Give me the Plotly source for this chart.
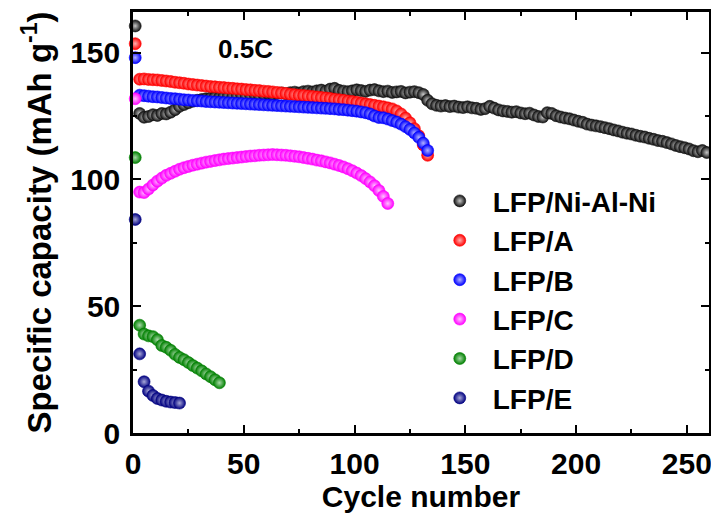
import plotly.graph_objects as go

# ---------------- data ----------------
x_ni = list(range(1, 260, 2))
y_ni = [160.5, 126.0, 124.5, 124.8, 125.5, 125.2, 126.0, 125.8, 126.5, 127.5,
        128.8, 129.5, 130.2, 130.8, 131.2, 131.5, 131.8, 132.0, 132.3, 132.2,
        132.6, 132.8, 132.7, 133.0, 133.2, 133.0, 133.3, 133.5, 133.2, 133.6,
        133.8, 133.5, 133.9, 134.1, 133.8, 134.2, 134.4, 134.1, 134.6, 134.8,
        134.5, 134.9, 135.2, 134.8, 135.6, 135.9, 135.1, 134.8, 134.6, 134.9,
        135.3, 135.0, 134.7, 135.2, 135.4, 134.9, 134.6, 134.8, 134.3, 134.5,
        134.7, 134.1, 134.4, 134.6, 134.2, 133.5, 131.2, 129.8, 129.2, 128.9,
        129.1, 128.7, 128.9, 128.5, 128.3, 128.6, 128.2, 128.0, 127.6, 127.9,
        128.8, 128.1, 127.4, 127.0, 126.8, 126.5, 126.7, 126.2, 125.9, 126.1,
        125.4, 124.8, 124.6, 126.3, 126.0, 125.1, 124.6, 124.2, 123.9, 123.4,
        122.9, 122.5, 121.8, 121.4, 121.1, 120.8, 120.4, 120.0, 119.5, 119.1,
        118.6, 118.2, 117.9, 117.4, 117.0, 116.7, 116.2, 115.8, 115.3, 115.0,
        114.5, 114.0, 113.4, 112.9, 112.5, 112.0, 111.3, 110.9, 111.4, 110.6]

x_a = list(range(1, 134, 2))
y_a = [153.5, 139.5, 139.6, 139.4, 139.3, 139.2, 139.0, 138.8, 138.6, 138.3,
       138.1, 137.9, 137.6, 137.4, 137.2, 137.0, 136.8, 136.6, 136.5, 136.3,
       136.2, 136.0, 135.9, 135.7, 135.6, 135.4, 135.3, 135.1, 135.0, 134.8,
       134.7, 134.5, 134.3, 134.1, 133.9, 133.6, 133.4, 133.2, 133.1, 132.9,
       132.7, 132.5, 132.3, 132.1, 131.9, 131.6, 131.4, 131.2, 130.9, 130.7,
       130.4, 130.1, 129.8, 129.5, 129.2, 128.9, 128.6, 128.2, 127.8, 127.0,
       125.8, 124.2, 122.3, 120.0, 117.2, 113.6, 109.5]

x_b = list(range(1, 134, 2))
y_b = [148.0, 133.2, 133.0, 132.8, 132.6, 132.5, 132.3, 132.1, 131.9, 131.8,
       131.6, 131.4, 131.3, 131.1, 131.0, 130.9, 130.7, 130.6, 130.5, 130.4,
       130.3, 130.2, 130.1, 130.0, 129.9, 129.8, 129.7, 129.6, 129.5, 129.4,
       129.3, 129.2, 129.1, 129.0, 128.9, 128.8, 128.7, 128.6, 128.5, 128.4,
       128.3, 128.2, 128.1, 128.0, 127.9, 127.8, 127.6, 127.5, 127.3, 127.1,
       126.9, 126.6, 126.3, 125.8, 125.0, 124.4, 124.3, 123.8, 123.2, 122.6,
       121.8, 120.8, 119.7, 118.3, 116.6, 114.3, 111.4]

x_c = list(range(1, 116, 2))
y_c = [131.8, 95.0, 94.8, 96.2, 97.8, 99.3, 100.5, 101.6, 102.4, 103.2,
       104.0, 104.6, 105.1, 105.6, 106.0, 106.4, 106.8, 107.1, 107.4, 107.7,
       108.0, 108.2, 108.4, 108.6, 108.8, 109.0, 109.2, 109.3, 109.5, 109.6,
       109.7, 109.8, 109.7, 109.6, 109.5, 109.3, 109.1, 108.9, 108.6, 108.3,
       108.0, 107.6, 107.3, 106.9, 106.5, 106.0, 105.5, 104.9, 104.2, 103.4,
       102.5, 101.5, 100.3, 99.0, 97.5, 95.6, 93.3, 90.5]

x_d = list(range(1, 40, 2))
y_d = [108.6, 42.5, 39.0, 38.3, 38.0, 36.8, 34.5, 33.8, 32.6, 31.0,
       29.8, 28.9, 27.8, 26.6, 25.6, 24.5, 23.3, 22.2, 21.0, 19.8]

x_e = list(range(1, 22, 2))
y_e = [84.2, 31.2, 20.2, 16.5, 14.8, 13.6, 13.0, 12.5, 12.2, 12.0, 11.8]

names = ["LFP/Ni-Al-Ni", "LFP/A", "LFP/B", "LFP/C", "LFP/D", "LFP/E"]
colors = ["#111111", "#ff0000", "#0000ff", "#ff00ff", "#008000", "#000080"]
highlights = ["#c8c8c8", "#ffb0b0", "#b0b0ff", "#ffc0ff", "#a8d8a8", "#a8a8d8"]
xs = [x_ni, x_a, x_b, x_c, x_d, x_e]
ys = [y_ni, y_a, y_b, y_c, y_d, y_e]

FONT = "Arial, Liberation Sans, sans-serif"

fig = go.Figure()
for n, c, h, xv, yv in zip(names, colors, highlights, xs, ys):
    fig.add_trace(go.Scatter(
        x=xv, y=yv, name=n, mode="markers",
        marker=dict(size=12, color=c, line=dict(width=0.6, color=c),
                    gradient=dict(type="radial", color=h)),
        cliponaxis=False,
    ))

axis_common = dict(
    showline=True, linewidth=2.5, linecolor="black", mirror="ticks",
    ticks="inside", ticklen=8, tickwidth=2, tickcolor="black",
    showgrid=False, zeroline=False, automargin=False,
    tickfont=dict(family=FONT, size=30, color="black", weight="bold"),
)

# page body has an 8px default margin: figure is sized/margined to compensate
fig.update_layout(
    width=711, height=509,
    paper_bgcolor="white", plot_bgcolor="white",
    margin=dict(l=125, r=10, t=4, b=84),
    font=dict(family=FONT, color="black"),
    xaxis=dict(range=[0, 260], tickvals=[0, 50, 100, 150, 200, 250],
               minor=dict(tickvals=[25, 75, 125, 175, 225], ticks="inside",
                          ticklen=4, tickwidth=2, tickcolor="black"),
               ticklabelstandoff=2,
               title=dict(text="Cycle number", standoff=4,
                          font=dict(family=FONT, size=30, color="black", weight="bold")),
               **axis_common),
    yaxis=dict(range=[0, 166], tickvals=[0, 50, 100, 150],
               minor=dict(tickvals=[25, 75, 125], ticks="inside",
                          ticklen=4, tickwidth=2, tickcolor="black"),
               ticklabelstandoff=4,
               title=dict(text="Specific capacity (mAh g<sup>-1</sup>)", standoff=9,
                          font=dict(family=FONT, size=33, color="black", weight="bold")),
               **axis_common),
    legend=dict(x=0.51, y=0.61, xanchor="left", yanchor="top",
                bgcolor="rgba(0,0,0,0)", itemwidth=56,
                font=dict(family=FONT, size=28, color="black", weight="bold")),
    showlegend=True,
    annotations=[dict(x=51, y=151.3, xref="x", yref="y", text="0.5C", showarrow=False,
                      font=dict(family=FONT, size=26, color="black", weight="bold"))],
)

fig.write_html("out.html")
